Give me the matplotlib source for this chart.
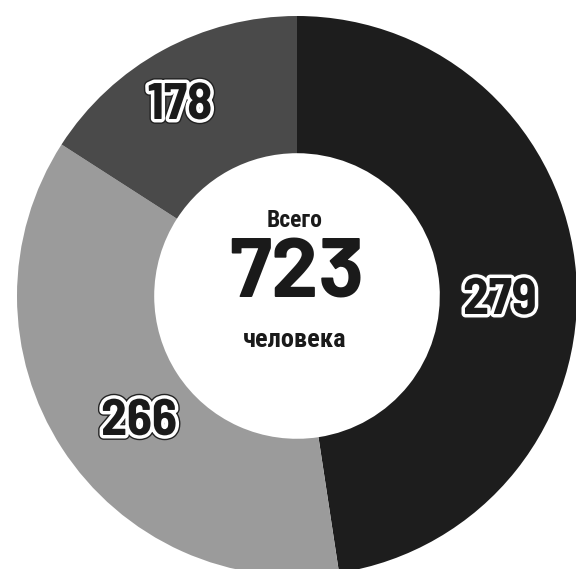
import matplotlib
matplotlib.use("Agg")
import matplotlib.pyplot as plt
import matplotlib.patheffects as pe

# values shown on the chart
counts = [279, 266, 178]
# slice shares as drawn in the picture (not proportional to counts)
shares = [47.6, 36.5, 15.9]
colors = ["#1d1d1d", "#9b9b9b", "#4a4a4a"]
total_label = "723"
top_text = "Всего"
bottom_text = "человека"

W, H = 576, 569
fig = plt.figure(figsize=(W / 100, H / 100), dpi=100)
ax = fig.add_axes([0, 0, 1, 1])

cx, cy, r = 297, H - 296, 280
ax.pie(shares, colors=colors, startangle=90, counterclock=False,
       center=(cx, cy), radius=r, frame=True,
       wedgeprops=dict(width=r * 0.49, linewidth=0))
ax.set_xlim(0, W)
ax.set_ylim(0, H)
ax.axis("off")

outline = [pe.Stroke(linewidth=7, foreground="#222222"),
           pe.Stroke(linewidth=5, foreground="white"),
           pe.Normal()]
label_pos = [(500, H - 314), (139, H - 435), (180, H - 119)]
for value, (x, y) in zip(counts, label_pos):
    ax.text(x, y, str(value), ha="center", va="baseline", fontsize=37,
            fontweight="bold", family=["Barlow Semi Condensed", "Roboto Condensed"],
            color="#1a1a1a", path_effects=outline)

ax.text(295, H - 227, top_text, ha="center", va="baseline", fontsize=17,
        fontweight="bold", family="Roboto Condensed", color="#1a1a1a")
ax.text(297, H - 297, total_label, ha="center", va="baseline", fontsize=61,
        fontweight="bold", family=["Barlow", "Roboto Condensed"], color="#1a1a1a")
ax.text(295, H - 347, bottom_text, ha="center", va="baseline", fontsize=19,
        fontweight="bold", family="Roboto Condensed", color="#1a1a1a")

fig.savefig("out.png", dpi=100)
